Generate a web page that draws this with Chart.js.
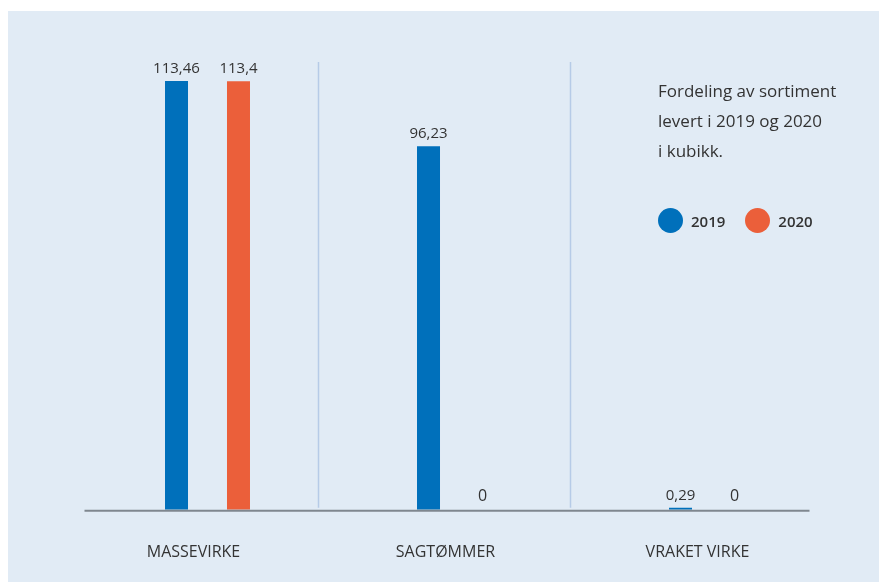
<!DOCTYPE html>
<html>
<head>
<meta charset="utf-8">
<script src="https://cdn.jsdelivr.net/npm/chart.js@4"></script>
<style>
  body { margin: 0; background: #fff; }
  #wrap { position: relative; width: 879px; height: 582px; }
  #panel { position: absolute; left: 8px; top: 11px; right: 0; bottom: 0; background: #e1ebf5; }
  canvas { position: absolute; left: 0; top: 0; }
  #info { position: absolute; left: 658px; top: 76px; font-family: "Open Sans", sans-serif;
    font-size: 17px; line-height: 30px; color: #333; }
  #legend { position: absolute; left: 658px; top: 208px; display: flex; font-family: "Open Sans", sans-serif;
    font-size: 15px; font-weight: 600; color: #333; }
  .item { display: flex; align-items: center; margin-right: 20px; }
  .dot { width: 25px; height: 25px; border-radius: 50%; margin-right: 8px; }
</style>
</head>
<body>
<div id="wrap">
  <div id="panel"></div>
  <canvas id="chart" width="879" height="582"></canvas>
  <div id="info">Fordeling av sortiment<br>levert i 2019 og 2020<br>i kubikk.</div>
  <div id="legend"></div>
</div>
<script>
const categories = ["MASSEVIRKE", "SAGTØMMER", "VRAKET VIRKE"];
const values2019 = [113.46, 96.23, 0.29];
const values2020 = [113.4, 0, 0];
const seriesLabels = ["2019", "2020"];
const colors = ["#0070bb", "#eb5f3a"];

const fmt = (v) => String(v).replace(".", ",");

const valueLabels = {
  id: "valueLabels",
  afterDatasetsDraw(chart) {
    const ctx = chart.ctx;
    ctx.save();
    ctx.fillStyle = "#333";
    ctx.textAlign = "center";
    ctx.textBaseline = "bottom";
    chart.data.datasets.forEach((ds, i) => {
      chart.getDatasetMeta(i).data.forEach((bar, j) => {
        // zero values get a slightly bigger label, pulled toward the blue bar
        const zero = ds.data[j] === 0;
        ctx.font = (zero ? "16px" : "15px") + ' "Open Sans", sans-serif';
        ctx.fillText(fmt(ds.data[j]), zero ? bar.x - 8 : bar.x, bar.y - 5);
      });
    });
    ctx.restore();
  },
};

const dividers = {
  id: "dividers",
  beforeDatasetsDraw(chart) {
    const ctx = chart.ctx;
    const x = chart.scales.x;
    const area = chart.chartArea;
    ctx.save();
    ctx.strokeStyle = "#b6cbe7";
    ctx.lineWidth = 1.5;
    for (let i = 0; i < categories.length - 1; i++) {
      const px = (x.getPixelForValue(i) + x.getPixelForValue(i + 1)) / 2 - 15;
      ctx.beginPath();
      ctx.moveTo(px, area.top);
      ctx.lineTo(px, area.bottom - 2);
      ctx.stroke();
    }
    ctx.restore();
  },
  afterDatasetsDraw(chart) {
    const ctx = chart.ctx;
    const area = chart.chartArea;
    ctx.save();
    ctx.strokeStyle = "#7f878f";
    ctx.lineWidth = 2;
    ctx.beginPath();
    ctx.moveTo(area.left + 3, area.bottom + 1);
    ctx.lineTo(area.right - 28, area.bottom + 1);
    ctx.stroke();
    ctx.restore();
  },
};

const data = {
  labels: categories,
  datasets: [
    { label: seriesLabels[0], data: values2019, backgroundColor: colors[0], minBarLength: 2 },
    { label: seriesLabels[1], data: values2020, backgroundColor: colors[1] },
  ],
};

const chart = new Chart(document.getElementById("chart"), {
  type: "bar",
  data: data,
  options: {
    responsive: false,
    animation: false,
    events: [],
    layout: { padding: { left: 81.5, right: 41.5, top: 62, bottom: -13 } },
    datasets: { bar: { maxBarThickness: 23, categoryPercentage: 0.492, barPercentage: 1 } },
    scales: {
      x: {
        grid: { display: false, drawTicks: false },
        border: { display: false },
        ticks: {
          padding: 33,
          labelOffset: -14,
          color: "#333",
          font: { family: "Open Sans", size: 16 },
        },
      },
      y: { display: false, min: 0, max: 118.5 },
    },
    plugins: { legend: { display: false }, tooltip: { enabled: false } },
  },
  plugins: [dividers, valueLabels],
});

document.getElementById("legend").innerHTML = seriesLabels
  .map((l, i) => `<div class="item"><span class="dot" style="background:${colors[i]}"></span>${l}</div>`)
  .join("");
</script>
</body>
</html>
